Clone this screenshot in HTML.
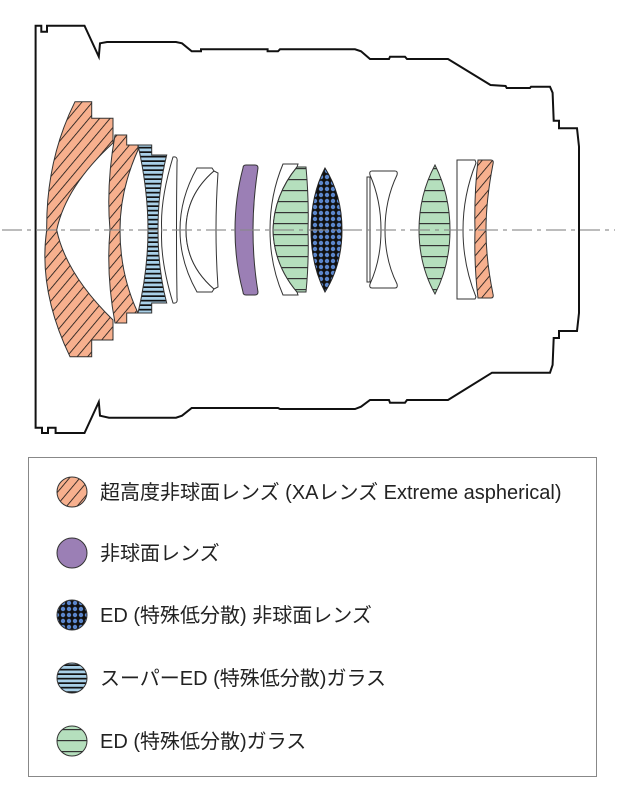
<!DOCTYPE html>
<html><head><meta charset="utf-8"><style>
body{margin:0;background:#fff;width:627px;height:800px;overflow:hidden}
svg{display:block}
text{font-family:"Liberation Sans","Noto Sans CJK JP",sans-serif;font-size:20px;fill:#222}
</style></head><body>
<svg width="627" height="800" viewBox="0 0 627 800">
<defs>
<pattern id="hatch" width="8" height="8" patternUnits="userSpaceOnUse" patternTransform="rotate(40)">
<rect width="8" height="8" fill="#f7b08e"/><line x1="0" y1="0" x2="0" y2="8" stroke="#111" stroke-width="1.6"/></pattern>
<pattern id="blue" width="4" height="4.5" patternUnits="userSpaceOnUse">
<rect width="4" height="4.5" fill="#a9d0e8"/><rect y="2.8" width="4" height="1.7" fill="#111"/></pattern>
<pattern id="green" width="10" height="11" patternUnits="userSpaceOnUse" y="3">
<rect width="10" height="11" fill="#b5dfbd"/><rect y="0" width="10" height="1.2" fill="#333"/></pattern>
<pattern id="dots" width="6" height="6" patternUnits="userSpaceOnUse">
<rect width="6" height="6" fill="#111"/><circle cx="3" cy="3" r="2.2" fill="#5b86cc"/></pattern>
</defs>
<path d="M35.6,31.7 L35.6,25.7 L41.3,25.7 L41.3,31.7 L47,31.7 L47,25.7 L84.5,25.7 L98.8,56.7 L100,43.3 L107,42 L176,42 L182,43.3 L191.7,51.3 L201,51.3 L201,49.3 L267.6,49.3 L267.6,51.3 L278,51.3 L280,49.3 L355,49.3 L361,51.3 L370,59 L389,59 L390,56.7 L405,56.7 L407,59 L448,59 L490.5,85 L505.6,86 L506.7,88 L530,88 L531,86.7 L550,86.7 L552.6,92.7 L553.7,120.7 L559,120.7 L559,128.3 L577,128.3 L579,146.7 L579,313 L577,331 L559,331 L559,338 L553.7,338 L552.6,365 L550,372.7 L492,372.7 L448,400 L407,400 L405,402.7 L390,402.7 L389,400 L370,400 L361,406.7 L355,409 L280,409 L278,408 L191.7,408 L182,415.7 L176,417.7 L109,417.7 L100,415.7 L98.8,402 L84.5,433 L55.6,433 L55.6,427.7 L48,427.7 L48,433 L42,433 L42,427.7 L35.6,427.7 Z" fill="none" stroke="#111" stroke-width="2"/>
<path d="M75,101.7 L91.7,101.7 L91.7,118.3 L113,118.3 L113,143 Q66,186 56.7,230 Q66,274 113,320 L113,340 L91.7,340 L91.7,356.7 L70,356.7 Q38,290 46.7,230 Q46,160 75,101.7 Z" fill="url(#hatch)" stroke="#333" stroke-width="1"/>
<path d="M115,135 L126.7,135 L126.7,145 L138,145 L138,150 Q120,190 120,230 Q120,275 138,313 L126.7,313 L126.7,323 L115,323 Q106,275 110,230 Q106,185 115,135 Z" fill="url(#hatch)" stroke="#333" stroke-width="1"/>
<path d="M138,145 L151.7,145 L151.7,155 L166.7,155 Q158,190 158,230 Q158,270 166.7,303 L151.7,303 L151.7,313 L138,313 Q148,270 148,230 Q148,190 138,145 Z" fill="url(#blue)" stroke="#333" stroke-width="1"/>
<path d="M173,157 Q178,156 177,162 Q176,230 177,298 Q178,304 173,303 Q160,260 161.7,230 Q160,200 173,157 Z" fill="#fff" stroke="#333" stroke-width="1"/>
<path d="M197,168 L212,168 L214,171 Q186,195 186,230 Q186,265 214,289 L212,292 L197,292 Q180,262 180,230 Q180,198 197,168 Z" fill="#fff" stroke="#333" stroke-width="1"/>
<path d="M214,171 L218,173 Q214,230 218,287 L214,289 Q186,265 186,230 Q186,195 214,171 Z" fill="#fff" stroke="#333" stroke-width="1"/>
<path d="M246,165 L255,165 Q258,165 258,168 Q253,200 253,230 Q253,262 258,292 Q258,295 255,295 L246,295 Q243,295 243,292 Q235,262 235,230 Q235,198 243,168 Q243,165 246,165 Z" fill="#9b7fb5" stroke="#333" stroke-width="1"/>
<path d="M283,164 L298,164 L297,167 Q274,195 273,230 Q274,265 297,292 L298,295 L283,295 Q270,265 270,230 Q270,195 283,164 Z" fill="#fff" stroke="#333" stroke-width="1"/>
<path d="M297,167 L306,167 Q309,200 308,230 Q309,262 306,292 L297,292 Q274,265 273,230 Q274,195 297,167 Z" fill="url(#green)" stroke="#333" stroke-width="1"/>
<path d="M325,168 Q342,195 342,230 Q342,265 325,292 Q311,265 311,230 Q311,195 325,168 Z" fill="url(#dots)" stroke="#222" stroke-width="1"/>
<path d="M367,177 L370,177 L370,282 L367,282 Z" fill="#fff" stroke="#333" stroke-width="1"/>
<path d="M372,171 L395,171 Q398,171 397,175 Q385,200 385,230 Q385,260 397,284 Q398,288 395,288 L372,288 Q369,288 370,284 Q381,260 381,230 Q381,200 370,175 Q369,171 372,171 Z" fill="#fff" stroke="#333" stroke-width="1"/>
<path d="M435,165 Q450,195 450,230 Q450,265 435,294 Q419,265 419,230 Q419,195 435,165 Z" fill="url(#green)" stroke="#333" stroke-width="1"/>
<path d="M457,160 L475,160 L476,163 Q463,195 463,230 Q463,265 476,297 L475,299 L457,299 Z" fill="#fff" stroke="#333" stroke-width="1"/>
<path d="M478,160 L491,160 Q494,160 493,164 Q486,200 486,230 Q486,260 493,294 Q494,298 491,298 L478,298 Q474,265 475,230 Q474,195 478,160 Z" fill="url(#hatch)" stroke="#333" stroke-width="1"/>
<line x1="2" y1="230" x2="615" y2="230" stroke="#888" stroke-width="1.3" stroke-dasharray="20,5,4,5" opacity="0.9"/>
<rect x="28.5" y="457.5" width="568" height="319" fill="none" stroke="#888" stroke-width="1"/>
<circle cx="72" cy="492" r="15" fill="url(#hatch)" stroke="#333"/>
<circle cx="72" cy="553" r="15" fill="#9b7fb5" stroke="#333"/>
<circle cx="72" cy="615" r="15" fill="url(#dots)" stroke="#333"/>
<circle cx="72" cy="678" r="15" fill="url(#blue)" stroke="#333"/>
<circle cx="72" cy="741" r="15" fill="url(#green)" stroke="#333"/>
<text x="100" y="499">超高度非球面レンズ (XAレンズ Extreme aspherical)</text>
<text x="100" y="560">非球面レンズ</text>
<text x="100" y="622">ED (特殊低分散) 非球面レンズ</text>
<text x="100" y="685">スーパーED (特殊低分散)ガラス</text>
<text x="100" y="748">ED (特殊低分散)ガラス</text>
</svg>
</body></html>
